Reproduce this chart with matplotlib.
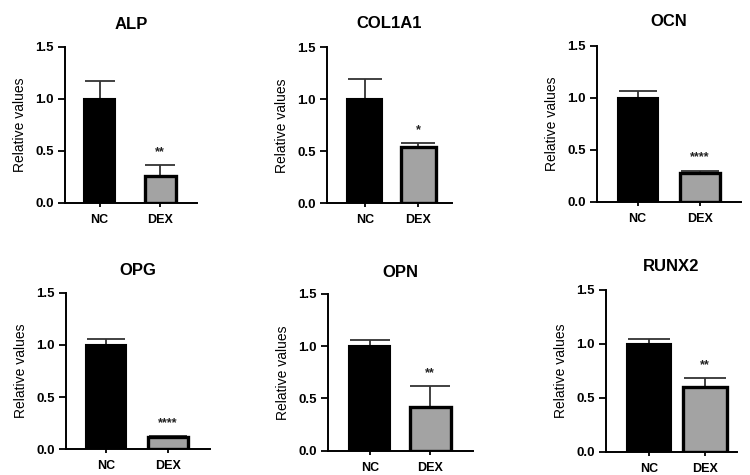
import numpy as np
import matplotlib.pyplot as plt

plt.rcParams['font.family'] = ['Liberation Sans', 'DejaVu Sans']

genes = ['ALP', 'COL1A1', 'OCN', 'OPG', 'OPN', 'RUNX2']
groups = ['NC', 'DEX']

# средние значения и верхняя погрешность (SD)
nc_mean = [1.00, 1.00, 1.00, 1.00, 1.00, 1.00]
nc_err = [0.17, 0.20, 0.065, 0.055, 0.06, 0.045]
dex_mean = [0.26, 0.54, 0.28, 0.12, 0.42, 0.60]
dex_err = [0.10, 0.04, 0.02, 0.008, 0.20, 0.08]
stars = ['**', '*', '****', '****', '**', '**']

# положение осей в пикселях: левая граница, правая, y(1.5), y(0)
boxes = [
    (65, 197, 46.7, 202.7),
    (327, 452, 47.3, 203.3),
    (597, 741, 45.7, 201.7),
    (66, 210, 292.7, 449.3),
    (328, 473, 294, 450.7),
    (606, 737, 290, 451.7),
]
# центры столбиков в пикселях и ширина
centers = [(99.5, 160), (364.7, 418), (637.5, 700), (106, 168), (369.7, 430.3), (648.8, 704.7)]
bar_px = [31, 35, 40, 40, 41, 44]
title_gap = [13, 14, 14, 13, 12, 14]

W, H = 750, 475
fig = plt.figure(figsize=(7.5, 4.75), dpi=100)

for i, g in enumerate(genes):
    x0, x1, ytop, ybot = boxes[i]
    ax = fig.add_axes([x0 / W, 1 - ybot / H, (x1 - x0) / W, (ybot - ytop) / H])
    c0, c1 = centers[i]
    sep = c1 - c0
    ax.set_xlim((x0 - c0) / sep, (x1 - c0) / sep)
    ax.set_ylim(0, 1.5)
    w = bar_px[i] / sep

    x = np.arange(2)
    vals = [nc_mean[i], dex_mean[i]]
    errs = [nc_err[i], dex_err[i]]
    ax.errorbar(x, vals, yerr=[[0, 0], errs], fmt='none', ecolor='#333333',
                elinewidth=1.3, capsize=w * sep * 0.35, capthick=1.3, zorder=1)
    ax.bar(x[0], vals[0], width=w, color='black', edgecolor='black', linewidth=1.5, zorder=2)
    ax.bar(x[1], vals[1], width=w, color='#a3a3a3', edgecolor='black', linewidth=2.4, zorder=2)

    ax.text(1, vals[1] + errs[1] + 0.125, stars[i], ha='center', va='center',
            fontsize=9, fontweight='bold', color='#222222')

    ax.set_yticks([0, 0.5, 1.0, 1.5])
    ax.set_yticklabels(['0.0', '0.5', '1.0', '1.5'])
    ax.set_xticks(x)
    ax.set_xticklabels(groups)
    for lab in ax.get_xticklabels() + ax.get_yticklabels():
        lab.set_fontweight('bold')
    ax.tick_params(axis='y', labelsize=9.5, length=5, width=1.3, pad=3)
    ax.tick_params(axis='x', labelsize=9, length=3, width=1.3, pad=5)
    for s in ['top', 'right']:
        ax.spines[s].set_visible(False)
    for s in ['left', 'bottom']:
        ax.spines[s].set_linewidth(1.4)

    ax.set_ylabel('Relative values', fontsize=10, fontweight='medium', labelpad=6)
    ax.set_title(g, fontsize=12, fontweight='bold', pad=title_gap[i])

plt.savefig('out.png', dpi=100)
